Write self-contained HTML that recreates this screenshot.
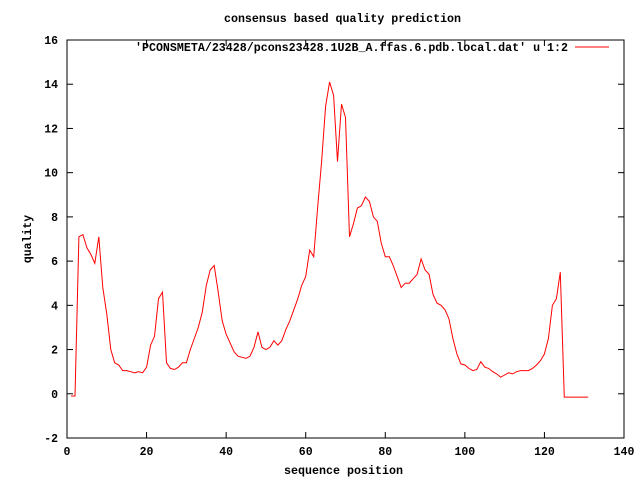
<!DOCTYPE html>
<html><head><meta charset="utf-8"><style>
body{margin:0;background:#fff}
text{font-family:"Liberation Mono",monospace;font-size:11.5px;font-weight:bold;fill:#000}
</style></head><body>
<svg width="640" height="480" xmlns="http://www.w3.org/2000/svg">
<rect width="640" height="480" fill="#fff"/>
<text x="224" y="22" textLength="237" lengthAdjust="spacingAndGlyphs">consensus based quality prediction</text>
<text x="284" y="474" textLength="119" lengthAdjust="spacingAndGlyphs">sequence position</text>
<text transform="translate(31,239) rotate(-90)" text-anchor="middle">quality</text>
<g id="axes"></g>
<rect x="67" y="40" width="557" height="398" fill="none" stroke="#000" stroke-width="1"/>
<g>
<text x="135" y="51" textLength="433" lengthAdjust="spacingAndGlyphs">'PCONSMETA/23428/pcons23428.1U2B_A.ffas.6.pdb.local.dat' u 1:2</text>
<line x1="575" y1="47" x2="609" y2="47" stroke="#f00" stroke-width="1"/>
</g>
<path id="series" fill="none" stroke="#f00" stroke-width="1"/>
</svg>
<script>
const xTicks=[0,20,40,60,80,100,120,140];
const yTicks=[-2,0,2,4,6,8,10,12,14,16];
const positions=[];for(let i=1;i<=131;i++)positions.push(i);
const quality=[-0.1,-0.1,7.1,7.2,6.6,6.3,5.9,7.1,4.8,3.6,2.0,1.4,1.3,1.05,1.05,1.0,0.95,1.0,0.95,1.2,
2.2,2.6,4.3,4.6,1.4,1.15,1.1,1.2,1.4,1.4,2.0,2.5,3.0,3.7,4.9,5.6,5.8,4.6,3.3,2.7,
2.3,1.9,1.7,1.65,1.6,1.7,2.1,2.8,2.1,2.0,2.1,2.4,2.2,2.4,2.9,3.3,3.8,4.3,4.9,5.3,
6.5,6.2,8.4,10.5,13.0,14.1,13.5,10.5,13.1,12.5,7.1,7.7,8.4,8.5,8.9,8.7,8.0,7.8,6.8,6.2,
6.2,5.8,5.3,4.8,5.0,5.0,5.2,5.4,6.1,5.6,5.4,4.5,4.1,4.0,3.8,3.4,2.5,1.8,1.35,1.3,
1.15,1.05,1.1,1.45,1.2,1.15,1.0,0.9,0.75,0.85,0.95,0.9,1.0,1.05,1.05,1.05,1.15,1.3,1.5,1.8,
2.5,4.0,4.3,5.5,-0.15,-0.15,-0.15,-0.15,-0.15,-0.15,-0.15];
const L=67,R=624,T=40,B=438;
const xs=v=>L+(v-0)/(140-0)*(R-L);
const ys=v=>B-(v+2)/(18)*(B-T);
const NS="http://www.w3.org/2000/svg";
const ax=document.getElementById('axes');
function mk(tag,attrs){const e=document.createElementNS(NS,tag);for(const k in attrs)e.setAttribute(k,attrs[k]);ax.appendChild(e);return e;}
xTicks.forEach(v=>{const x=xs(v);
const t1=mk('line',{x1:x,y1:B,x2:x,y2:B-6,stroke:'#000'});


const t2=mk('line',{x1:x,y1:T,x2:x,y2:T+6,stroke:'#000'});


const tx=mk('text',{x:x,y:B+17,'text-anchor':'middle'});tx.textContent=v;


});
yTicks.forEach(v=>{const y=ys(v);
const t1=mk('line',{x1:L,y1:y,x2:L+6,y2:y,stroke:'#000'});


const t2=mk('line',{x1:R,y1:y,x2:R-6,y2:y,stroke:'#000'});


const tx=mk('text',{x:L-9,y:y+4,'text-anchor':'end'});tx.textContent=v;


});
let d='';positions.forEach((p,i)=>{d+=(i?'L':'M')+xs(p).toFixed(1)+' '+ys(quality[i]).toFixed(1);});
document.getElementById('series').setAttribute('d',d);
</script>
</body></html>
